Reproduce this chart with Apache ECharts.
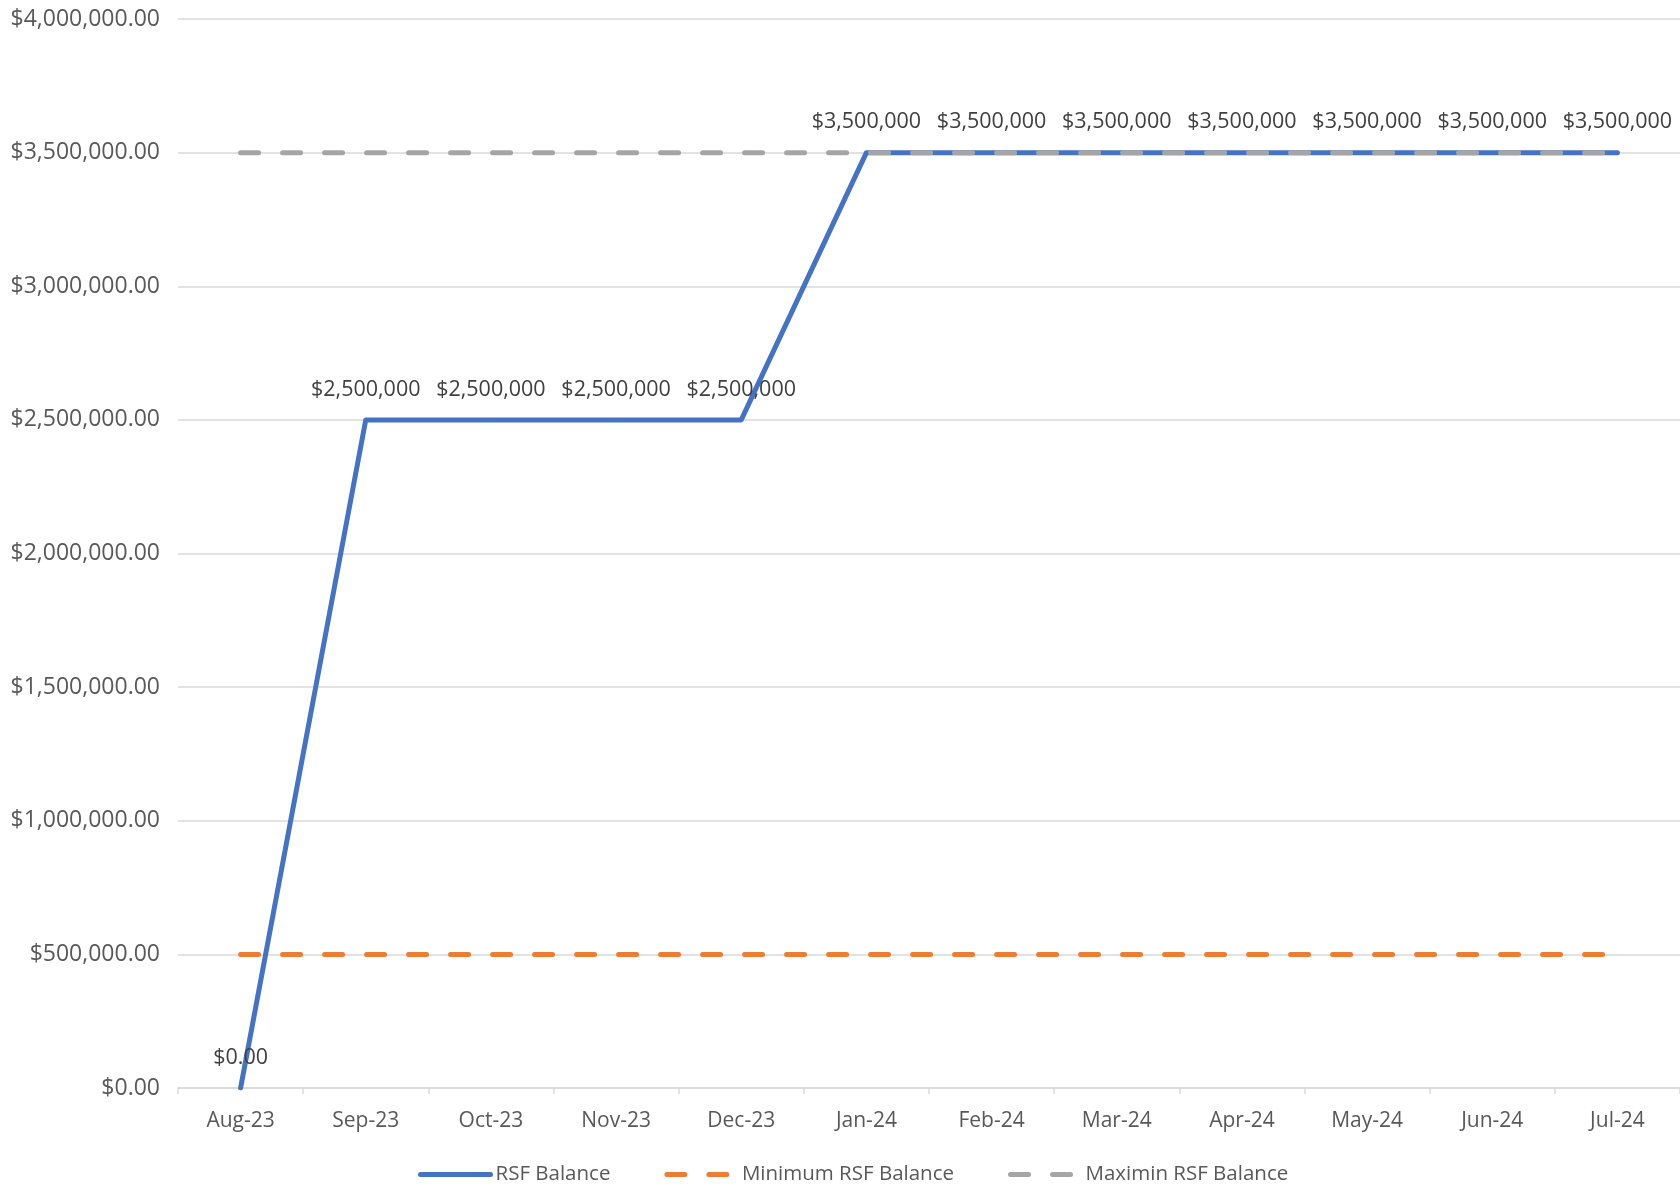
<!DOCTYPE html>
<html>
<head>
<meta charset="utf-8">
<script src="https://cdn.jsdelivr.net/npm/echarts@6/dist/echarts.min.js"></script>
<style>html,body{margin:0;padding:0;background:#fff}#c{width:1680px;height:1188px}</style>
</head>
<body>
<div id="c"></div>
<script>
const categories = ['Aug-23','Sep-23','Oct-23','Nov-23','Dec-23','Jan-24','Feb-24','Mar-24','Apr-24','May-24','Jun-24','Jul-24'];
const rsfBalance = [0, 2500000, 2500000, 2500000, 2500000, 3500000, 3500000, 3500000, 3500000, 3500000, 3500000, 3500000];
const minBalance = [500000, 500000, 500000, 500000, 500000, 500000, 500000, 500000, 500000, 500000, 500000, 500000];
const maxBalance = [3500000, 3500000, 3500000, 3500000, 3500000, 3500000, 3500000, 3500000, 3500000, 3500000, 3500000, 3500000];
const seriesNames = ['RSF Balance', 'Minimum RSF Balance', 'Maximin RSF Balance'];

const FONT = 'Open Sans';
const chart = echarts.init(document.getElementById('c'));
const dash = [18, 24];
chart.setOption({
  animation: false,
  backgroundColor: '#ffffff',
  textStyle: { fontFamily: FONT },
  grid: { left: 178, top: 19, width: 1506, bottom: 100, containLabel: false },
  legend: {
    left: 413, top: 1159, itemWidth: 70, itemHeight: 14, itemGap: 54,
    itemStyle: { opacity: 0 },
    lineStyle: { width: 5, cap: 'round' },
    textStyle: { fontFamily: FONT, fontSize: 20.5, color: '#595959' },
    data: seriesNames
  },
  xAxis: {
    type: 'category', data: categories, boundaryGap: true,
    axisLine: { lineStyle: { color: '#d9d9d9', width: 1.5 } },
    axisTick: { show: true, length: 6, lineStyle: { color: '#d9d9d9', width: 1.5 } },
    axisLabel: { fontFamily: FONT, fontSize: 21, color: '#595959', margin: 23 }
  },
  yAxis: {
    type: 'value', min: 0, max: 4000000, interval: 500000,
    axisLine: { show: false }, axisTick: { show: false },
    splitLine: { lineStyle: { color: '#d9d9d9', width: 1.5 } },
    axisLabel: {
      fontFamily: FONT, fontSize: 23, color: '#595959', margin: 18,
      formatter: v => '$' + v.toLocaleString('en-US', { minimumFractionDigits: 2, maximumFractionDigits: 2 })
    }
  },
  series: [
    {
      name: seriesNames[0], type: 'line', data: rsfBalance,
      symbol: 'circle', symbolSize: 1, itemStyle: { color: '#4472C4', borderWidth: 0 },
      lineStyle: { color: '#4472C4', width: 5, cap: 'round', join: 'round' },
      label: {
        show: true, position: 'top', distance: 19,
        fontFamily: FONT, fontSize: 21.5, color: '#404040',
        formatter: p => p.value === 0 ? '$0.00' : '$' + p.value.toLocaleString('en-US')
      },
      z: 2
    },
    {
      name: seriesNames[1], type: 'line', data: minBalance, symbol: 'none',
      itemStyle: { color: '#ED7D31' },
      lineStyle: { color: '#ED7D31', width: 5, type: dash, cap: 'round' },
      z: 3
    },
    {
      name: seriesNames[2], type: 'line', data: maxBalance, symbol: 'none',
      itemStyle: { color: '#A5A5A5' },
      lineStyle: { color: '#A5A5A5', width: 5, type: dash, cap: 'round' },
      z: 4
    }
  ]
});
</script>
</body>
</html>
